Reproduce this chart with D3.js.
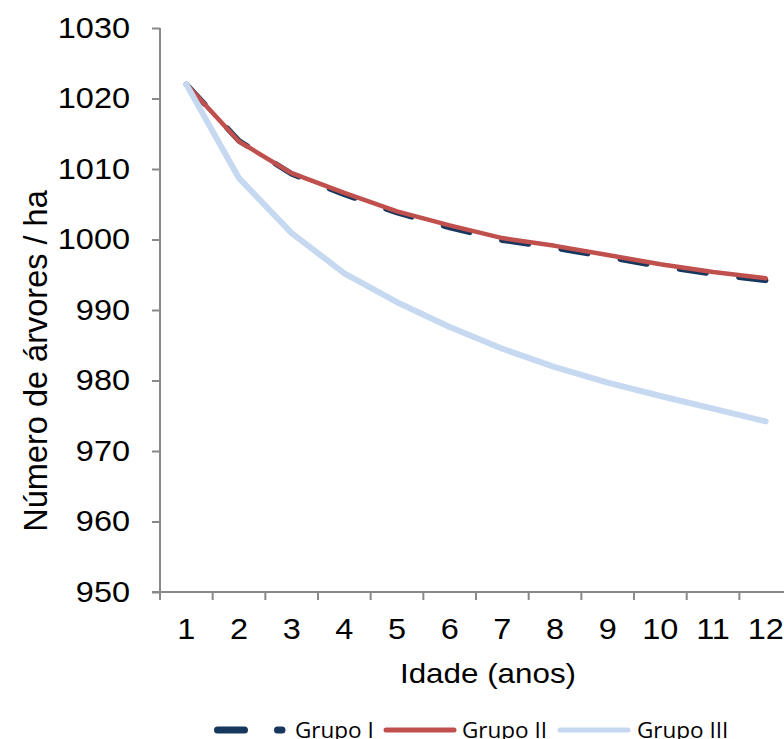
<!DOCTYPE html>
<html>
<head>
<meta charset="utf-8">
<script src="https://cdn.jsdelivr.net/npm/d3@7"></script>
<style>
  body { margin: 0; background: #fff; }
  svg { display: block; }
</style>
</head>
<body>
<svg id="chart" width="784" height="739"></svg>
<script>
// Age classes (years)
const idades = [1, 2, 3, 4, 5, 6, 7, 8, 9, 10, 11, 12];

// Trees per hectare for each group
const grupoI   = [1022, 1014.0, 1009.3, 1006.4, 1003.8, 1001.7, 999.9, 998.8, 997.5, 996.2, 995.1, 994.2];
const grupoII  = [1022, 1013.9, 1009.4, 1006.6, 1004.0, 1002.0, 1000.2, 999.1, 997.8, 996.5, 995.4, 994.5];
const grupoIII = [1022, 1008.7, 1000.9, 995.2, 991.1, 987.6, 984.5, 981.9, 979.7, 977.8, 976.0, 974.2];

const yTicks = [950, 960, 970, 980, 990, 1000, 1010, 1020, 1030];
const seriesNames = ["Grupo I", "Grupo II", "Grupo III"];

const svg = d3.select("#chart");
const axisColor = "#898989";
const numFont = "'Liberation Sans', Arial, sans-serif";
const sx = 1.12; // horizontal text stretch

const left = 160, bandW = 52.67;
const x = d3.scaleBand().domain(idades).range([left, left + bandW * idades.length]).paddingInner(0).paddingOuter(0);
const y = d3.scaleLinear().domain([950, 1030]).range([592, 28]);

function stretch(sel) {
  sel.each(function () {
    const t = d3.select(this);
    const x0 = +t.attr("x") || 0;
    t.attr("x", x0 / sx).attr("transform", `scale(${sx},1)`);
  });
}

// Y axis
const yAxis = svg.append("g")
  .attr("transform", `translate(${left},0)`)
  .call(d3.axisLeft(y).tickValues(yTicks).tickSize(8).tickSizeOuter(0).tickPadding(22).tickFormat(d3.format("d")));
yAxis.select(".domain").remove();
yAxis.selectAll(".tick line").attr("stroke", axisColor).attr("stroke-width", 2);
yAxis.selectAll(".tick text").attr("font-family", numFont).attr("font-size", 29).attr("fill", "#000").call(stretch);
svg.append("line").attr("x1", left).attr("x2", left).attr("y1", y(1030)).attr("y2", y(950) + 8)
  .attr("stroke", axisColor).attr("stroke-width", 2);

// X axis
svg.append("line").attr("x1", left - 8).attr("x2", 784).attr("y1", y(950)).attr("y2", y(950))
  .attr("stroke", axisColor).attr("stroke-width", 2);
const edges = idades.map(d => x(d)).concat([x.range()[1]]);
svg.append("g").selectAll("line").data(edges).join("line")
  .attr("x1", d => d).attr("x2", d => d).attr("y1", y(950)).attr("y2", y(950) + 8)
  .attr("stroke", axisColor).attr("stroke-width", 2);
const xAxis = svg.append("g")
  .attr("transform", `translate(0,${y(950)})`)
  .call(d3.axisBottom(x).tickSize(0).tickPadding(26));
xAxis.select(".domain").remove();
xAxis.selectAll(".tick text").attr("font-family", numFont).attr("font-size", 29).attr("fill", "#000").call(stretch);

// Axis titles
svg.append("text")
  .attr("x", 488 / sx).attr("y", 683)
  .attr("transform", `scale(${sx},1)`)
  .attr("text-anchor", "middle")
  .attr("font-family", numFont).attr("font-size", 28).attr("fill", "#000")
  .text("Idade (anos)");

svg.append("text")
  .attr("transform", `translate(47,361) rotate(-90)`)
  .attr("text-anchor", "middle")
  .attr("font-family", numFont).attr("font-size", 32.5).attr("fill", "#000")
  .text("Número de árvores / ha");

// Series
const styles = [
  { color: "#17375E", width: 5.5, dash: "27,33" },
  { color: "#C0504D", width: 4.5, dash: null },
  { color: "#C6D9F1", width: 6, dash: null }
];
const seriesData = [grupoI, grupoII, grupoIII];
const line = d3.line().x((d, i) => x(idades[i]) + x.bandwidth() / 2).y(d => y(d));

seriesData.forEach((vals, k) => {
  svg.append("path")
    .datum(vals)
    .attr("d", line)
    .attr("fill", "none")
    .attr("stroke", styles[k].color)
    .attr("stroke-width", styles[k].width)
    .attr("stroke-linecap", "round")
    .attr("stroke-linejoin", "round")
    .attr("stroke-dasharray", styles[k].dash);
});

// Legend
const legendY = 730;
const legendItems = [
  { x1: 217.5, x2: 282, tx: 295 },
  { x1: 386, x2: 454, tx: 462 },
  { x1: 560, x2: 628, tx: 637 }
];
legendItems.forEach((it, k) => {
  svg.append("line")
    .attr("x1", it.x1).attr("x2", it.x2).attr("y1", legendY).attr("y2", legendY)
    .attr("stroke", styles[k].color)
    .attr("stroke-width", k === 0 ? 7 : 5)
    .attr("stroke-linecap", "round")
    .attr("stroke-dasharray", styles[k].dash);
  svg.append("text")
    .attr("x", it.tx).attr("y", 738)
    .attr("font-family", "'Open Sans', 'Noto Sans', sans-serif")
    .attr("font-size", 22.5).attr("fill", "#000")
    .text(seriesNames[k]);
});
</script>
</body>
</html>
